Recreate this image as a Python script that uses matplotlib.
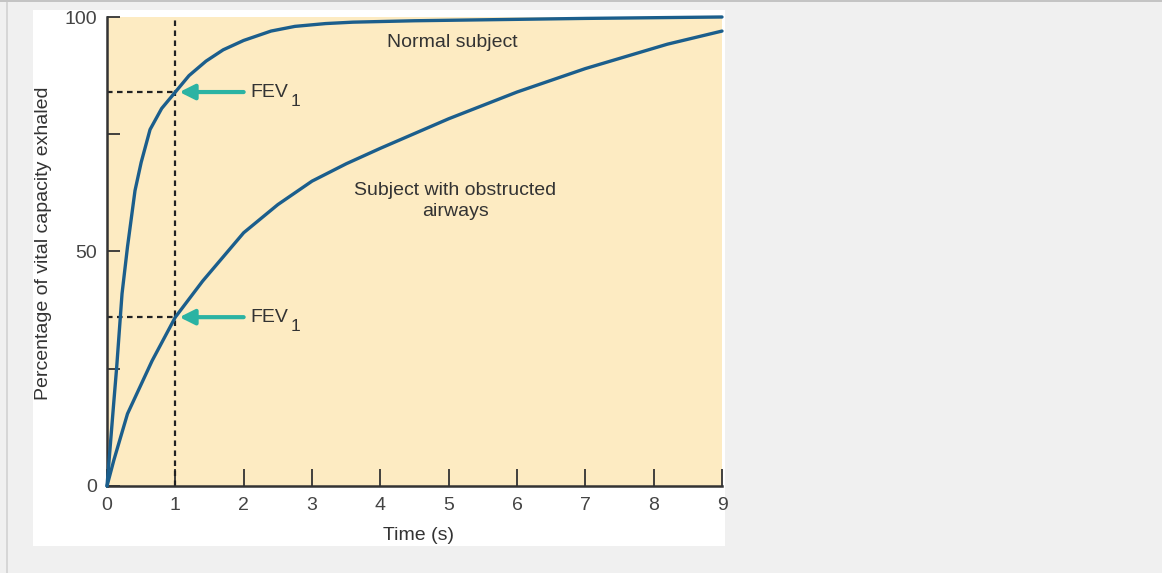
import matplotlib
matplotlib.use("Agg")
import matplotlib.pyplot as plt
from matplotlib.patches import Rectangle

plt.rcParams['font.family'] = ['Liberation Sans', 'DejaVu Sans']

# ---- data ----
normal_t = [0, 0.05, 0.1, 0.14, 0.18, 0.22, 0.3, 0.41, 0.5, 0.63, 0.8, 1.0, 1.2, 1.45, 1.7, 2.0, 2.4, 2.75, 3.2, 3.6, 4.5, 5.5, 7, 9]
normal_v = [0, 9, 18, 25, 33, 41, 51, 63, 69, 76, 80.5, 84, 87.5, 90.6, 93, 95, 97, 98, 98.6, 98.9, 99.2, 99.4, 99.7, 100]
obst_t = [0, 0.1, 0.3, 0.66, 1.0, 1.4, 2.0, 2.5, 3.0, 3.5, 4.0, 5.0, 6.0, 7.0, 8.2, 9.0]
obst_v = [0, 5.5, 15.4, 26.7, 36, 43.7, 54, 60, 65, 68.7, 72, 78.3, 84, 89, 94.2, 97]
fev1_t = 1.0
fev1_normal = 84
fev1_obst = 36
x_ticks = [0, 1, 2, 3, 4, 5, 6, 7, 8, 9]
y_ticks = [0, 25, 50, 75, 100]
y_ticklabels = ['0', '', '50', '', '100']

W, H = 1162, 573
fig = plt.figure(figsize=(W / 100, H / 100), dpi=100)
fig.patch.set_facecolor('#f0f0f0')

def fr(x0, y0, x1, y1, color):
    fig.patches.append(Rectangle((x0 / W, 1 - y1 / H), (x1 - x0) / W, (y1 - y0) / H,
                                 transform=fig.transFigure, facecolor=color,
                                 edgecolor='none', zorder=-5))

fr(33, 10, 725, 546, 'white')
fr(0, 0, W, 2, '#c4c4c4')
fr(6, 2, 8, H, '#d6d6d6')

ax = fig.add_axes([107 / W, 1 - 486 / H, (722 - 107) / W, (486 - 17) / H])
ax.set_zorder(2)
ax.set_facecolor('#fdebc2')
ax.set_xlim(0, 9)
ax.set_ylim(0, 100)

line_col = '#1b5e8c'
for tt, vv in ((normal_t, normal_v), (obst_t, obst_v)):
    ax.plot(tt, vv, color=line_col, lw=2.4, solid_capstyle='round',
            solid_joinstyle='round', zorder=3, clip_on=False)

dash = dict(color='#222222', lw=1.6, ls=(0, (2.5, 2)), zorder=2)
ax.plot([fev1_t, fev1_t], [0, 100], **dash)
ax.plot([0, fev1_t], [fev1_normal, fev1_normal], **dash)
ax.plot([0, fev1_t], [fev1_obst, fev1_obst], **dash)

arrow_col = '#2bb3a3'
txt = dict(fontsize=14, color='#333333')
for v in (fev1_normal, fev1_obst):
    ax.annotate('', xy=(fev1_t + 0.06, v), xytext=(fev1_t + 1.0, v),
                arrowprops=dict(arrowstyle='-|>,head_length=0.9,head_width=0.45',
                                color=arrow_col, lw=3, shrinkA=0, shrinkB=0), zorder=4)
    t1 = ax.text(fev1_t + 1.1, v, 'FEV', ha='left', va='center', **txt)
    ax.annotate('1', xy=(1, 0.5), xycoords=t1, xytext=(1.5, -6.5), textcoords='offset points',
                ha='left', va='center', fontsize=12.5, color='#333333')

ax.text(5.05, 94.6, 'Normal subject', ha='center', va='center', **txt)
ax.text(5.1, 60.8, 'Subject with obstructed\nairways', ha='center', va='center',
        linespacing=1.35, **txt)

for s in ('top', 'right'):
    ax.spines[s].set_visible(False)
for s in ('left', 'bottom'):
    ax.spines[s].set_color('#333333')
    ax.spines[s].set_linewidth(1.8)

ax.set_xticks(x_ticks)
ax.set_xticklabels([str(t) for t in x_ticks])
ax.set_yticks(y_ticks)
ax.set_yticklabels(y_ticklabels)
ax.tick_params(axis='x', direction='in', length=12, width=1.3, color='#333333',
               labelsize=14, labelcolor='#444444', pad=8)
ax.tick_params(axis='y', direction='in', length=9, width=1.3, color='#333333',
               labelsize=14, labelcolor='#444444', pad=7)

ax.set_xlabel('Time (s)', fontsize=14, color='#333333')
ax.set_ylabel('Percentage of vital capacity exhaled', fontsize=14, color='#333333')
ax.xaxis.set_label_coords(0.506, -0.087)
ax.yaxis.set_label_coords(-0.089, 0.518)

fig.savefig('out.png', dpi=100, facecolor=fig.get_facecolor())
